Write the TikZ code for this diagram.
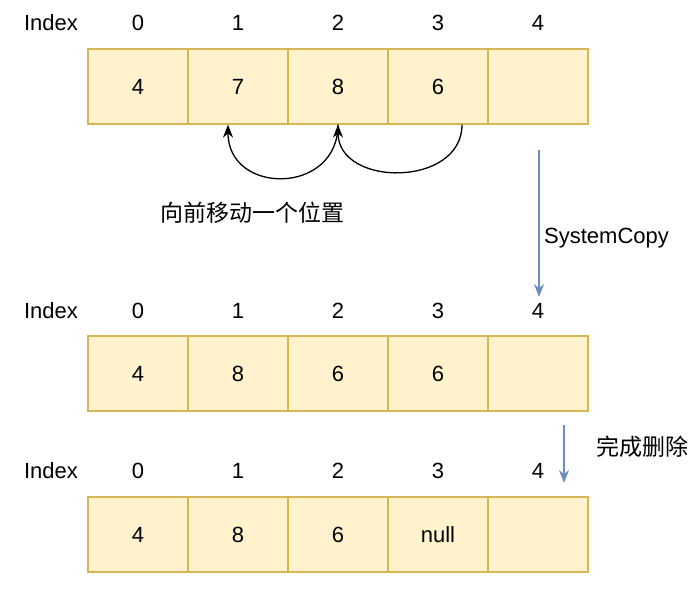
\documentclass[tikz,border=0pt]{standalone}
\usepackage{fontspec}
\setmainfont{Liberation Sans}
\newfontfamily\cjk{Noto Sans CJK SC}
\usetikzlibrary{arrows.meta}
\definecolor{cellfill}{HTML}{FFF2CC}
\definecolor{celldraw}{HTML}{D6B656}
\definecolor{flowblue}{HTML}{6C8EBF}
\tikzset{
  cell/.style={draw=celldraw, fill=cellfill, line width=1.3pt, minimum width=100pt, minimum height=75pt, inner sep=0pt, font=\fontsize{22}{26}\selectfont},
  lbl/.style={font=\fontsize{22}{26}\selectfont, inner sep=0pt},
  move/.style={-{Stealth[length=13pt,width=10pt]}, line width=1.3pt, black},
  flow/.style={-{Stealth[length=13pt,width=10pt]}, line width=1.2pt, flowblue},
}
\begin{document}
\begin{tikzpicture}[x=1pt, y=-1pt]
        \useasboundingbox (0,0) rectangle (693,595);
        % three arrays: row/centre y/index y/values
        \foreach \r/\cy/\iy/\vals in {1/86.5/23/{4,7,8,6,{}}, 2/373.5/311/{4,8,6,6,{}}, 3/534.5/471/{4,8,6,null,{}}} {
            \node[lbl] (idx\r) at (51,\iy) {Index};
            \foreach \v [count=\i from 0] in \vals {
                \node[cell] (r\r c\i) at (138+100*\i,\cy) {\v};
                \node[lbl] (n\r c\i) at (138+100*\i,\iy) {\i};
            }
        }
        % shift one place forward
        \draw[move] ([xshift=24pt]r1c3.south) to[out=-90, in=-90, looseness=1.3] (r1c2.south);
        \draw[move] (r1c2.south) to[out=-90, in=-90, looseness=1.65] ([xshift=-10pt]r1c1.south);
        \node[lbl] (shift) at (252,213) {\cjk\fontsize{23}{27}\selectfont 向前移动一个位置};
        % copy and delete
        \coordinate (copyA) at (539,150);
        \coordinate (copyB) at (539,297);
        \draw[flow] (copyA) -- (copyB);
        \node[lbl, anchor=west] (copy) at (544,238) {SystemCopy};
        \coordinate (delA) at (564,425);
        \coordinate (delB) at (564,483);
        \draw[flow] (delA) -- (delB);
        \node[lbl, anchor=west] (done) at (596,447) {\cjk\fontsize{23}{27}\selectfont 完成删除};
    \end{tikzpicture}
\end{document}
